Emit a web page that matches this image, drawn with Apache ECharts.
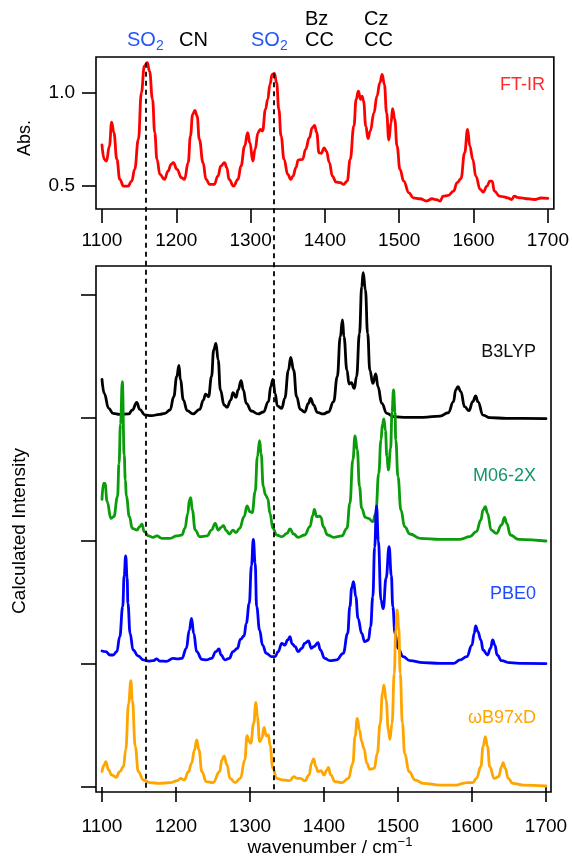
<!DOCTYPE html>
<html>
<head>
<meta charset="utf-8">
<script src="https://cdn.jsdelivr.net/npm/echarts@6/dist/echarts.min.js"></script>
<style>
  html, body { margin: 0; padding: 0; background: #fff; }
  #chart { width: 572px; height: 858px; }
</style>
</head>
<body>
<div id="chart"></div>
<script>
// Axis ticks
const wavenumberTicks = [1100, 1200, 1300, 1400, 1500, 1600, 1700];
const absTicks = [0.5, 1.0];
const offsetTicks = [0, 1, 2, 3, 4];

// Wavenumbers of the SO2 bands marked by the dashed guides
const so2Bands = [1159.5, 1332];

// Measured FT-IR absorbance [wavenumber, Abs.]
const ftir = [
  [1100,0.719],[1103,0.642],[1106,0.633],[1110,0.713],[1113,0.842],[1116,0.785],[1120,0.642],
  [1124,0.534],[1129,0.498],[1135,0.498],[1140,0.525],[1144,0.588],[1149,0.749],[1153,1.0],
  [1157,1.143],[1161,1.161],[1164,1.116],[1168,0.964],[1171,0.785],[1174,0.642],[1178,0.561],
  [1184,0.534],[1189,0.579],[1193,0.615],[1196,0.624],[1201,0.588],[1207,0.543],[1211,0.534],
  [1216,0.624],[1219,0.767],[1222,0.884],[1225,0.905],[1228,0.875],[1231,0.749],[1236,0.624],
  [1240,0.534],[1245,0.507],[1251,0.507],[1256,0.552],[1260,0.606],[1265,0.624],[1268,0.597],
  [1271,0.534],[1277,0.498],[1283,0.534],[1287,0.606],[1292,0.713],[1296,0.785],[1299,0.731],
  [1303,0.633],[1306,0.695],[1310,0.785],[1313,0.803],[1316,0.794],[1320,0.910],[1323,0.964],
  [1326,1.045],[1329,1.099],[1332,1.104],[1335,1.054],[1338,0.910],[1341,0.767],[1345,0.642],
  [1350,0.561],[1354,0.534],[1357,0.552],[1361,0.597],[1364,0.638],[1370,0.642],[1374,0.695],
  [1379,0.758],[1383,0.812],[1386,0.824],[1389,0.785],[1392,0.677],[1395,0.674],[1399,0.704],
  [1402,0.686],[1406,0.624],[1410,0.552],[1415,0.520],[1421,0.516],[1425,0.507],[1430,0.525],
  [1434,0.642],[1439,0.821],[1442,0.964],[1445,1.009],[1448,0.964],[1450,0.982],[1452,0.955],
  [1455,0.821],[1458,0.753],[1461,0.794],[1466,0.892],[1470,0.982],[1474,1.054],[1477,1.099],
  [1480,1.045],[1483,0.892],[1486,0.746],[1489,0.839],[1491,0.914],[1494,0.857],[1497,0.713],
  [1501,0.588],[1506,0.525],[1513,0.462],[1519,0.435],[1528,0.430],[1537,0.418],[1544,0.430],
  [1550,0.425],[1555,0.418],[1559,0.444],[1566,0.448],[1573,0.471],[1578,0.516],[1583,0.538],
  [1588,0.677],[1592,0.803],[1595,0.713],[1599,0.642],[1603,0.552],[1609,0.480],[1613,0.466],
  [1618,0.498],[1622,0.525],[1625,0.525],[1628,0.471],[1635,0.444],[1641,0.440],[1646,0.435],
  [1651,0.426],[1655,0.444],[1660,0.436],[1664,0.435],[1673,0.430],[1682,0.426],[1691,0.434],
  [1700,0.432]
];

// Calculated spectra, stacked one unit apart [wavenumber, intensity]
const b3lyp = [
  [1100,3.314],[1103,3.200],[1109,3.079],[1115,3.038],[1124,3.030],[1136,3.033],[1141,3.065],
  [1147,3.127],[1151,3.070],[1158,3.024],[1167,3.019],[1178,3.030],[1185,3.038],[1192,3.065],
  [1197,3.173],[1201,3.336],[1204,3.428],[1206,3.309],[1210,3.146],[1215,3.060],[1223,3.033],
  [1232,3.070],[1237,3.146],[1240,3.195],[1244,3.173],[1248,3.336],[1251,3.553],[1254,3.607],
  [1257,3.472],[1260,3.228],[1265,3.106],[1269,3.087],[1274,3.146],[1277,3.206],[1281,3.168],
  [1284,3.228],[1288,3.304],[1291,3.228],[1295,3.119],[1302,3.057],[1311,3.033],[1318,3.049],
  [1325,3.133],[1328,3.255],[1331,3.314],[1334,3.200],[1337,3.098],[1343,3.079],[1347,3.160],
  [1352,3.390],[1355,3.493],[1359,3.390],[1363,3.173],[1368,3.070],[1374,3.049],[1379,3.119],
  [1382,3.160],[1386,3.106],[1391,3.046],[1399,3.033],[1406,3.049],[1413,3.133],[1418,3.336],
  [1422,3.661],[1425,3.797],[1427,3.661],[1431,3.390],[1434,3.276],[1437,3.287],[1441,3.241],
  [1444,3.336],[1448,3.688],[1451,4.068],[1453,4.182],[1456,4.041],[1459,3.688],[1462,3.390],
  [1466,3.282],[1470,3.358],[1473,3.255],[1478,3.119],[1485,3.038],[1494,3.011],[1512,3.005],
  [1534,3.005],[1557,3.016],[1568,3.043],[1575,3.133],[1578,3.228],[1581,3.255],[1585,3.214],
  [1590,3.092],[1596,3.060],[1601,3.133],[1605,3.179],[1608,3.133],[1615,3.024],[1624,3.003],
  [1647,2.997],[1669,2.997],[1700,2.995]
];

const m062x = [
  [1100,2.339],[1102,2.469],[1104,2.469],[1107,2.320],[1112,2.184],[1116,2.198],[1121,2.360],
  [1123,2.631],[1125,2.950],[1127.5,3.295],[1130,2.700],[1131.5,2.500],[1133,2.360],[1137,2.198],
  [1141,2.103],[1147,2.089],[1151,2.117],[1154,2.138],[1157,2.076],[1163,2.041],[1169,2.030],
  [1174,2.041],[1181,2.022],[1192,2.022],[1201,2.041],[1208,2.049],[1212,2.103],[1216,2.225],
  [1218,2.333],[1220,2.352],[1222,2.252],[1226,2.089],[1232,2.035],[1242,2.041],[1248,2.089],
  [1253,2.144],[1257,2.089],[1261,2.111],[1264,2.125],[1268,2.084],[1272,2.057],[1277,2.089],
  [1281,2.068],[1286,2.103],[1292,2.198],[1296,2.285],[1300,2.238],[1303,2.230],[1307,2.401],
  [1310,2.686],[1313,2.816],[1315,2.713],[1318,2.442],[1321,2.374],[1324,2.347],[1327,2.225],
  [1331,2.103],[1336,2.049],[1343,2.035],[1350,2.062],[1354,2.098],[1359,2.057],[1365,2.030],
  [1374,2.049],[1381,2.117],[1385,2.211],[1387,2.257],[1390,2.198],[1394,2.203],[1396,2.192],
  [1399,2.117],[1405,2.049],[1413,2.030],[1424,2.041],[1431,2.103],[1435,2.306],[1439,2.659],
  [1442,2.854],[1445,2.740],[1448,2.442],[1451,2.266],[1456,2.192],[1460,2.184],[1466,2.157],
  [1470,2.225],[1474,2.550],[1477,2.821],[1479,2.950],[1481,2.992],[1483,2.900],[1485,2.686],
  [1487,2.577],[1490,2.750],[1492,3.050],[1494,3.228],[1496,3.050],[1497,2.821],[1500,2.523],
  [1504,2.252],[1509,2.117],[1516,2.057],[1530,2.022],[1557,2.014],[1584,2.014],[1597,2.035],
  [1606,2.076],[1612,2.171],[1615,2.252],[1618,2.279],[1621,2.225],[1626,2.089],[1633,2.062],
  [1640,2.130],[1644,2.192],[1647,2.144],[1652,2.049],[1663,2.014],[1700,2.000]
];

const pbe0 = [
  [1100,1.106],[1105,1.100],[1111,1.073],[1115,1.073],[1120,1.100],[1124,1.222],[1128,1.466],
  [1130,1.720],[1132,1.878],[1134,1.700],[1135,1.493],[1138,1.249],[1142,1.114],[1149,1.065],
  [1156,1.033],[1163,1.024],[1169,1.027],[1174,1.041],[1178,1.024],[1187,1.022],[1196,1.046],
  [1202,1.041],[1208,1.046],[1214,1.127],[1218,1.276],[1221,1.371],[1224,1.249],[1228,1.100],
  [1235,1.038],[1241,1.033],[1248,1.046],[1254,1.100],[1258,1.122],[1261,1.073],[1266,1.033],
  [1272,1.046],[1277,1.100],[1283,1.127],[1287,1.200],[1292,1.228],[1295,1.331],[1299,1.493],
  [1302,1.800],[1304.5,2.014],[1307,1.820],[1309,1.466],[1313,1.276],[1317,1.154],[1322,1.087],
  [1329,1.060],[1334,1.060],[1338,1.100],[1343,1.168],[1347,1.154],[1351,1.195],[1354,1.222],
  [1357,1.163],[1361,1.141],[1365,1.100],[1370,1.127],[1374,1.168],[1379,1.187],[1383,1.127],
  [1386,1.141],[1392,1.173],[1395,1.114],[1401,1.046],[1408,1.027],[1417,1.033],[1426,1.087],
  [1432,1.249],[1435,1.466],[1437.5,1.620],[1440,1.669],[1443,1.547],[1446,1.371],[1451,1.249],
  [1455,1.182],[1460,1.195],[1463,1.304],[1466,1.547],[1468.5,1.950],[1471,2.285],[1473.5,2.000],
  [1477,1.520],[1480,1.450],[1484,1.700],[1488,1.954],[1491,1.720],[1493,1.466],[1496,1.249],
  [1500,1.127],[1507,1.060],[1516,1.027],[1534,1.011],[1557,1.005],[1575,1.005],[1584,1.033],
  [1593,1.060],[1600,1.154],[1603,1.249],[1605,1.309],[1608,1.263],[1612,1.195],[1615,1.114],
  [1621,1.073],[1625,1.127],[1628,1.195],[1631,1.154],[1634,1.073],[1640,1.027],[1651,1.011],
  [1669,1.005],[1700,1.003]
];

const wb97xd = [
  [1100,0.125],[1103,0.179],[1105,0.206],[1109,0.138],[1113,0.098],[1119,0.079],[1124,0.125],
  [1129,0.165],[1132,0.301],[1136,0.680],[1139,0.864],[1141,0.707],[1145,0.328],[1149,0.125],
  [1156,0.057],[1165,0.035],[1178,0.030],[1192,0.035],[1202,0.051],[1206,0.070],[1211,0.057],
  [1217,0.125],[1221,0.192],[1225,0.301],[1228,0.382],[1231,0.301],[1235,0.125],[1241,0.043],
  [1250,0.035],[1259,0.125],[1262,0.220],[1265,0.252],[1269,0.179],[1273,0.070],[1280,0.035],
  [1287,0.070],[1293,0.220],[1296,0.417],[1299,0.369],[1301,0.355],[1305,0.518],[1308,0.688],
  [1310,0.572],[1313,0.369],[1316,0.396],[1319,0.485],[1322,0.415],[1325,0.423],[1327,0.341],
  [1331,0.152],[1336,0.070],[1345,0.057],[1354,0.051],[1359,0.084],[1364,0.070],[1368,0.070],
  [1374,0.051],[1380,0.098],[1383,0.192],[1386,0.228],[1389,0.165],[1392,0.125],[1396,0.133],
  [1400,0.098],[1404,0.138],[1406,0.160],[1409,0.098],[1415,0.043],[1424,0.035],[1433,0.070],
  [1439,0.192],[1442,0.409],[1445,0.558],[1448,0.463],[1451,0.369],[1454,0.314],[1458,0.192],
  [1462,0.144],[1468,0.152],[1472,0.274],[1476,0.518],[1479,0.762],[1481,0.829],[1484,0.707],
  [1487,0.463],[1489,0.388],[1492,0.518],[1495,0.924],[1497,1.276],[1499,1.439],[1501,1.304],
  [1503,0.924],[1506,0.518],[1509,0.274],[1515,0.125],[1523,0.057],[1534,0.030],[1557,0.016],
  [1579,0.016],[1588,0.030],[1593,0.035],[1601,0.035],[1606,0.070],[1612,0.165],[1615,0.328],
  [1618,0.409],[1621,0.328],[1624,0.165],[1630,0.070],[1636,0.084],[1640,0.165],[1642,0.198],
  [1645,0.152],[1649,0.070],[1655,0.030],[1669,0.016],[1700,0.008]
];

const FONT = "'Liberation Sans', Helvetica, Arial, sans-serif";

// Start each dashed guide at the top of the FT-IR band it marks
function ftirPeakNear(w) {
  let best = -Infinity;
  ftir.forEach(([x, y]) => { if (Math.abs(x - w) <= 4 && y > best) best = y; });
  return best;
}

const GUIDE_BOTTOM = -2.76;
const guideLines = so2Bands.map(w => [
  { coord: [w, ftirPeakNear(w)] },
  { coord: [w, GUIDE_BOTTOM] }
]);

function xAxisFor(gridIndex, min, max, margin, tickLen) {
  return {
    type: 'value', gridIndex, min, max,
    axisLine: { show: false },
    splitLine: { show: false },
    axisTick: { show: true, inside: false, length: tickLen, customValues: wavenumberTicks,
                lineStyle: { color: '#000', width: 1.6 } },
    axisLabel: { show: true, customValues: wavenumberTicks, margin, color: '#000',
                 fontSize: 19, fontFamily: FONT, formatter: v => String(v) }
  };
}

function spectrum(name, data, color, axisIndex) {
  return {
    name, type: 'line', data,
    xAxisIndex: axisIndex, yAxisIndex: axisIndex,
    showSymbol: false, smooth: 0.45, smoothMonotone: 'x',
    lineStyle: { color, width: 2.8, join: 'round', cap: 'round' }, itemStyle: { color },
    silent: true
  };
}

function label(text, x, y, color, align, size) {
  return {
    type: 'text', x, y, silent: true,
    style: { text, fill: color, font: `${size || 18}px ${FONT}`, align: align || 'left', verticalAlign: 'middle' }
  };
}

function richLabel(text, x, y, color, rich) {
  return {
    type: 'text', x, y, silent: true,
    style: { text, fill: color, fontFamily: FONT, fontSize: 20, align: 'left', verticalAlign: 'middle', rich }
  };
}

const subStyle = { fontFamily: FONT, fontSize: 14, padding: [13, 0, 0, 0] };

const chart = echarts.init(document.getElementById('chart'), null, { renderer: 'canvas' });
chart.setOption({
  animation: false,
  backgroundColor: '#fff',
  grid: [
    { left: 96, right: 17, top: 57, height: 152, show: true, borderColor: '#000', borderWidth: 1.6, backgroundColor: 'transparent' },
    { left: 96, right: 21, top: 266, height: 526, show: true, borderColor: '#000', borderWidth: 1.6, backgroundColor: 'transparent' },
    { left: 96, right: 21, top: 57, height: 735, show: false }
  ],
  xAxis: [
    xAxisFor(0, 1091.95, 1708.05, 22, 14),
    xAxisFor(1, 1091.9, 1706.8, 25, 15),
    { type: 'value', gridIndex: 2, min: 1091.9, max: 1706.8, show: false }
  ],
  yAxis: [
    {
      type: 'value', gridIndex: 0, min: 0.375, max: 1.192,
      axisLine: { show: false }, splitLine: { show: false },
      axisTick: { show: true, length: 14, customValues: absTicks, lineStyle: { color: '#000', width: 1.6 } },
      axisLabel: { show: true, customValues: absTicks, margin: 21, color: '#000', fontSize: 19,
                   fontFamily: FONT, formatter: v => v.toFixed(1) }
    },
    {
      type: 'value', gridIndex: 1, min: -0.0407, max: 4.236,
      axisLine: { show: false }, splitLine: { show: false },
      axisTick: { show: true, length: 15, customValues: offsetTicks, lineStyle: { color: '#000', width: 1.6 } },
      axisLabel: { show: false }
    },
    { type: 'value', gridIndex: 2, min: GUIDE_BOTTOM, max: 1.192, show: false }
  ],
  series: [
    spectrum('FT-IR', ftir, '#ff0000', 0),
    spectrum('B3LYP', b3lyp, '#000000', 1),
    spectrum('M06-2X', m062x, '#0b9c0b', 1),
    spectrum('PBE0', pbe0, '#0000ff', 1),
    spectrum('ωB97xD', wb97xd, '#ffa500', 1),
    {
      name: 'guides', type: 'line', data: [], xAxisIndex: 2, yAxisIndex: 2, z: 10, silent: true,
      markLine: {
        silent: true, symbol: ['none', 'none'], animation: false,
        label: { show: false },
        lineStyle: { color: '#000', width: 1.8, type: [5, 4] },
        data: guideLines
      }
    }
  ],
  graphic: [
    // band assignments above the FT-IR panel
    richLabel('SO{sub|2}', 127, 40, '#2457f5', { sub: subStyle }),
    label('CN', 179, 40, '#000', 'left', 20),
    richLabel('SO{sub|2}', 251, 40, '#2457f5', { sub: subStyle }),
    label('Bz', 305, 19, '#000', 'left', 20),
    label('CC', 305, 40, '#000', 'left', 20),
    label('Cz', 364, 19, '#000', 'left', 20),
    label('CC', 364, 40, '#000', 'left', 20),
    // spectrum names
    label('FT-IR', 545, 85, '#ff2b2b', 'right', 18),
    label('B3LYP', 536, 352, '#111', 'right', 18),
    label('M06-2X', 536, 476, '#13956c', 'right', 18),
    label('PBE0', 536, 594, '#1f4bff', 'right', 18),
    label('ωB97xD', 536, 718, '#ffa500', 'right', 18),
    // axis titles
    {
      type: 'text', x: 25, y: 138, rotation: Math.PI / 2, silent: true,
      style: { text: 'Abs.', fill: '#000', font: `18px ${FONT}`, align: 'center', verticalAlign: 'middle' }
    },
    {
      type: 'text', x: 20, y: 531, rotation: Math.PI / 2, silent: true,
      style: { text: 'Calculated Intensity', fill: '#000', font: `19px ${FONT}`, align: 'center', verticalAlign: 'middle' }
    },
    {
      type: 'text', x: 330, y: 848, silent: true,
      style: {
        text: 'wavenumber / cm{sup|−1}', fill: '#000', fontFamily: FONT, fontSize: 19,
        align: 'center', verticalAlign: 'middle',
        rich: { sup: { fontFamily: FONT, fontSize: 13, padding: [0, 0, 11, 0] } }
      }
    }
  ]
});
</script>
</body>
</html>
